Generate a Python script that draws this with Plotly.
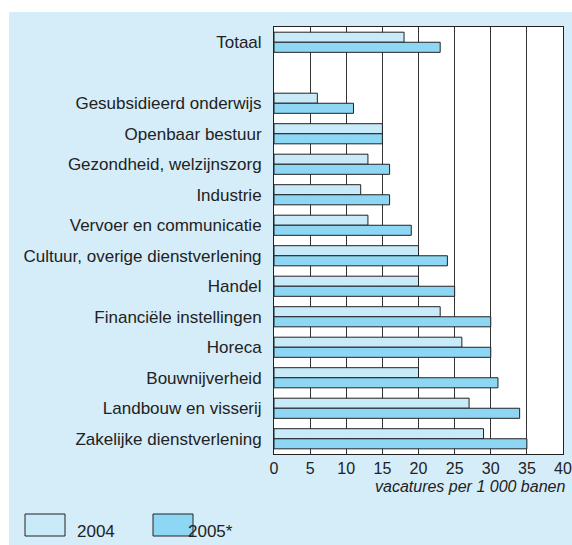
import plotly.graph_objects as go

categories = [
    "Totaal", " ",
    "Gesubsidieerd onderwijs", "Openbaar bestuur", "Gezondheid, welzijnszorg",
    "Industrie", "Vervoer en communicatie", "Cultuur, overige dienstverlening",
    "Handel", "Financiële instellingen", "Horeca", "Bouwnijverheid",
    "Landbouw en visserij", "Zakelijke dienstverlening",
]
values_2004 = [18, None, 6, 15, 13, 12, 13, 20, 20, 23, 26, 20, 27, 29]
values_2005 = [23, None, 11, 15, 16, 16, 19, 24, 25, 30, 30, 31, 34, 35]
series_names = ["2004", "2005*"]
x_ticks = [0, 5, 10, 15, 20, 25, 30, 35, 40]
x_title = "vacatures per 1 000 banen"

W, H = 572, 545
PL, PR, PT, PB = 274, 563, 27, 454   # plot area in page pixels
PW, PH = PR - PL, PB - PT

def px(x):
    return (x - PL) / PW

def py(y):
    return (PB - y) / PH

C_PANEL = "#d5ecf9"
C_2004 = "#c8eaf9"
C_2005 = "#8dd7f5"
C_LINE = "#222222"
FONT = "Liberation Sans, Arial, sans-serif"

fig = go.Figure()
for name, vals, col in [(series_names[0], values_2004, C_2004),
                        (series_names[1], values_2005, C_2005)]:
    fig.add_trace(go.Bar(
        y=categories, x=vals, name=name, orientation="h",
        marker=dict(color=col, line=dict(color=C_LINE, width=1)),
        showlegend=False,
    ))

shapes = [
    dict(type="rect", xref="paper", yref="paper", layer="below",
         x0=px(9), x1=px(W + 2), y0=py(H + 2), y1=py(12),
         fillcolor=C_PANEL, line=dict(width=0)),
    dict(type="rect", xref="paper", yref="paper", layer="below",
         x0=0, x1=1, y0=0, y1=1, fillcolor="white", line=dict(width=0)),
]
annotations = [
    dict(text=x_title, xref="paper", yref="paper", x=px(567), y=py(486),
         xanchor="right", yanchor="middle", showarrow=False,
         font=dict(family=FONT, size=16, color=C_LINE, style="italic")),
]
legend_items = [(25, 65, 75, series_names[0], C_2004),
                (153, 193, 186, series_names[1], C_2005)]
for bx0, bx1, tx, label, col in legend_items:
    shapes.append(dict(type="rect", xref="paper", yref="paper",
                       x0=px(bx0), x1=px(bx1), y0=py(536), y1=py(514),
                       fillcolor=col, line=dict(color=C_LINE, width=1)))
    annotations.append(dict(text=label, xref="paper", yref="paper",
                            x=px(tx), y=py(531), xanchor="left", yanchor="middle",
                            showarrow=False,
                            font=dict(family=FONT, size=17, color=C_LINE)))

fig.update_layout(
    width=W, height=H, autosize=False,
    margin=dict(l=PL, r=W - PR, t=PT, b=H - PB, pad=0, autoexpand=False),
    paper_bgcolor="white",
    plot_bgcolor="rgba(0,0,0,0)",
    barmode="group", bargap=0.34, bargroupgap=0,
    font=dict(family=FONT, size=17, color=C_LINE),
    shapes=shapes, annotations=annotations,
    xaxis=dict(range=[0, 40], tickvals=x_ticks, showgrid=True,
               gridcolor="#333333", gridwidth=1, zeroline=False,
               showline=True, linecolor=C_LINE, linewidth=1, mirror=True,
               ticks="", ticklabelstandoff=0, automargin=False,
               tickfont=dict(family=FONT, size=16, color=C_LINE),
               fixedrange=True),
    yaxis=dict(type="category", categoryorder="array", categoryarray=categories,
               autorange="reversed", showgrid=False, zeroline=False,
               showline=True, linecolor=C_LINE, linewidth=1, mirror=True,
               ticks="", ticklabelstandoff=8, automargin=False,
               tickfont=dict(family=FONT, size=17, color=C_LINE),
               fixedrange=True),
)

fig.write_html(
    "out.html",
    config={"responsive": False, "displayModeBar": False},
    post_script="document.body.style.margin='0';document.body.style.overflow='hidden';",
)
